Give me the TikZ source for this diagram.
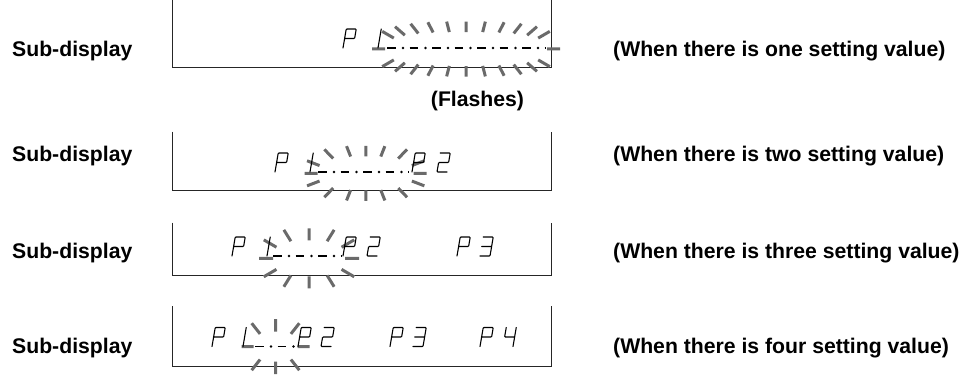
\documentclass[tikz,border=0pt]{standalone}
\usepackage{fontspec}
\setmainfont{Liberation Sans}
\usetikzlibrary{positioning}

\definecolor{raygray}{HTML}{6A6A6A}

% seven segment glyphs (local units, baseline at v=0)
\def\dgP{(0,0) -- (0,19) -- (10,19) -- (10,9.5) -- (0,9.5)}
\def\dgOne{(10,0) -- (10,19)}
\def\dgTwo{(0,19) -- (10,19) -- (10,9.5) -- (0,9.5) -- (0,0) -- (10,0)}
\def\dgThree{(0,19) -- (10,19) -- (10,0) -- (0,0) (0,9.5) -- (10,9.5)}
\def\dgFour{(0,19) -- (0,9.5) -- (10,9.5) (10,19) -- (10,0)}

% slanted digit cell at #1
\newcommand{\segdigit}[2]{%
  \begin{scope}[shift={#1}, x={(1pt,0pt)}, y={(0.17pt,1pt)}]
    \draw[digitline] #2;
  \end{scope}}

% flashing rays: centre x, centre y, inner a, inner b, outer a, outer b, angles
\newcommand{\flashrays}[7]{%
  \foreach \t in {#7} {
    \pgfmathsetmacro{\raycos}{(cos(\t)<0 ? -1 : 1)*pow(max(abs(cos(\t)),0.0001),0.7)}
    \pgfmathsetmacro{\raysin}{(sin(\t)<0 ? -1 : 1)*pow(max(abs(sin(\t)),0.0001),0.7)}
    \draw[flashray] ({#1+#3*\raycos},{#2-#4*\raysin}) -- ({#1+#5*\raycos},{#2-#6*\raysin});
  }}

% dash-dot cursor line from #1 to #2
\newcommand{\cursorline}[2]{%
  \draw[cursordash] #1 -- #2;
  \draw[cursordot] #1 -- #2;}

\begin{document}
\begin{tikzpicture}[x=1pt, y=-1pt,
  boxline/.style={draw=black!85, line width=1pt},
  digitline/.style={draw=black, line width=1.1pt, rounded corners=0.8pt, line cap=round},
  flashray/.style={draw=raygray, line width=3pt},
  cursordash/.style={draw=black, line width=1.3pt, dash pattern=on 8.5pt off 14pt},
  cursordot/.style={draw=black, line width=2.6pt, line cap=round,
    dash pattern=on 0pt off 22.5pt, dash phase=6.5pt},
  label/.style={font=\fontsize{21.2}{25}\selectfont\bfseries, inner sep=0pt}]

\useasboundingbox (0,0) rectangle (968,381);

% ============================
% LABELS
% ============================

\node[label, anchor=base west] (sub1) at (12,56.7)  {Sub-display};
\node[label, anchor=base west] (sub2) at (12,161.7) {Sub-display};
\node[label, anchor=base west] (sub3) at (12,258.3) {Sub-display};
\node[label, anchor=base west] (sub4) at (12,353)   {Sub-display};

\node[label, anchor=base west] (case1) at (613,56.7)  {(When there is one setting value)};
\node[label, anchor=base west] (case2) at (613,161.7) {(When there is two setting value)};
\node[label, anchor=base west] (case3) at (613,258.3) {(When there is three setting value)};
\node[label, anchor=base west] (case4) at (613,353)   {(When there is four setting value)};

\node[label, anchor=base] (flash) at (477.5,106) {(Flashes)};

% ============================
% DISPLAY 1 (one value)
% ============================

\draw[boxline] (172.5,0) |- (551.5,67) -- (551.5,0);
\flashrays{466}{49}{81}{17}{94}{27.5}{0,32,48,62,74,84,90,96,106,118,132,148,180,-32,-48,-62,-74,-84,-90,-96,-106,-118,-132,-148}
\segdigit{(343,48)}{\dgP}
\segdigit{(368,48)}{\dgOne}
\cursorline{(387,48)}{(545,48)}

% ============================
% DISPLAY 2 (two values)
% ============================

\draw[boxline] (172.5,131.7) |- (551.5,190.5) -- (551.5,131.7);
\flashrays{365.7}{173.3}{48}{17}{61}{27.5}{0,19,55,79,90,101,125,161,180,-19,-55,-79,-90,-101,-125,-161}
\segdigit{(275,172)}{\dgP}
\segdigit{(300,172)}{\dgOne}
\cursorline{(318,172)}{(409,172)}
\segdigit{(412,172)}{\dgP}
\segdigit{(437,172)}{\dgTwo}

% ============================
% DISPLAY 3 (three values)
% ============================

\draw[boxline] (172.5,222.7) |- (551.5,275) -- (551.5,222.7);
\flashrays{309}{258.3}{36}{18}{50}{30}{0,30,68,90,112,150,180,-30,-68,-90,-112,-150}
\segdigit{(232,256)}{\dgP}
\segdigit{(257,256)}{\dgOne}
\cursorline{(273,256)}{(341,256)}
\segdigit{(343,256)}{\dgP}
\segdigit{(367,256)}{\dgTwo}
\segdigit{(457,256)}{\dgP}
\segdigit{(480,256)}{\dgThree}

% ============================
% DISPLAY 4 (four values)
% ============================

\draw[boxline] (172.5,306) |- (551.5,366) -- (551.5,306);
\flashrays{275.5}{346.7}{22}{15}{34}{27.5}{0,53,90,127,180,-53,-90,-127}
\segdigit{(212,346.5)}{\dgP}
\segdigit{(233,346.5)}{\dgOne}
\cursorline{(255,346.5)}{(298,346.5)}
\segdigit{(298,346.5)}{\dgP}
\segdigit{(321,346.5)}{\dgTwo}
\segdigit{(390,346.5)}{\dgP}
\segdigit{(413,346.5)}{\dgThree}
\segdigit{(480,346.5)}{\dgP}
\segdigit{(503,346.5)}{\dgFour}

\end{tikzpicture}
\end{document}
